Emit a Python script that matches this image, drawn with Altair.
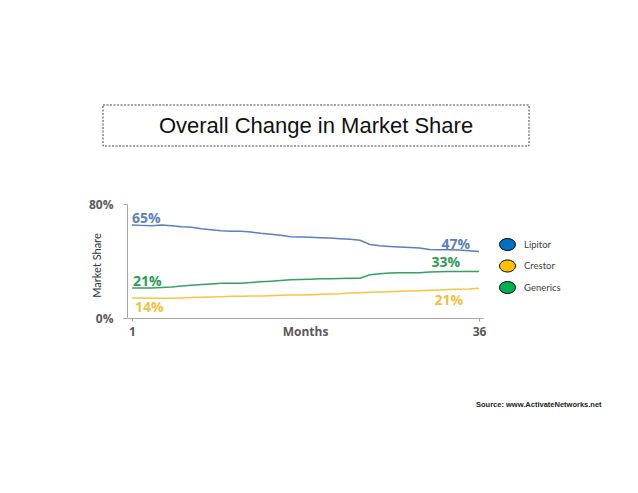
import altair as alt
import pandas as pd

# ---- data ----
months = list(range(1, 37))
series = ["Lipitor", "Crestor", "Generics"]
lipitor = [0.653, 0.650, 0.648, 0.653, 0.648, 0.641, 0.636, 0.627, 0.620, 0.613, 0.608, 0.608,
           0.603, 0.594, 0.587, 0.580, 0.570, 0.568, 0.566, 0.563, 0.561, 0.556, 0.552, 0.545,
           0.516, 0.507, 0.502, 0.498, 0.495, 0.491, 0.481, 0.479, 0.479, 0.477, 0.472, 0.467]
crestor = [0.141, 0.141, 0.138, 0.138, 0.138, 0.141, 0.143, 0.146, 0.148, 0.150, 0.153, 0.153,
           0.155, 0.155, 0.157, 0.160, 0.162, 0.162, 0.164, 0.167, 0.169, 0.171, 0.176, 0.178,
           0.181, 0.183, 0.185, 0.188, 0.190, 0.192, 0.195, 0.197, 0.200, 0.202, 0.204, 0.209]
generics = [0.211, 0.211, 0.211, 0.214, 0.218, 0.225, 0.230, 0.235, 0.239, 0.244, 0.244, 0.244,
            0.249, 0.254, 0.258, 0.263, 0.268, 0.270, 0.272, 0.275, 0.275, 0.277, 0.279, 0.279,
            0.303, 0.310, 0.315, 0.317, 0.317, 0.317, 0.322, 0.324, 0.326, 0.326, 0.326, 0.326]
x_tick_values = [1, 36]
y_tick_values = [0, 0.8]
title_text = "Overall Change in Market Share"
source_text = "Source: www.ActivateNetworks.net"

line_colors = ["#5a7fbe", "#f8c443", "#32a35b"]
label_colors = ["#5b80bd", "#f4bf3a", "#2e9c55"]
legend_colors = ["#0070c0", "#ffc000", "#00b050"]

values = {"Lipitor": lipitor, "Crestor": crestor, "Generics": generics}
rows = []
for s in series:
    for m, v in zip(months, values[s]):
        rows.append({"series": s, "month": m, "share": v})
df = pd.DataFrame(rows)
df["label"] = (df["share"] * 100).round().astype(int).astype(str) + "%"

x_enc = alt.X("month:Q", scale=alt.Scale(domain=[0.5, 36.4], nice=False, zero=False),
              axis=alt.Axis(values=x_tick_values, title="Months", grid=False,
                            labelFont="Open Sans", labelFontWeight="bold", labelFontSize=12,
                            labelColor="#595959", labelBaseline="middle", labelPadding=10,
                            labelFlush=False, labelOverlap=False,
                            tickSize=3, tickColor="#a6a6a6", domainColor="#a6a6a6",
                            titleFont="Open Sans", titleFontWeight="bold", titleFontSize=12,
                            titleColor="#595959", titleY=13, titleBaseline="middle"))
y_enc = alt.Y("share:Q", scale=alt.Scale(domain=[0, 0.8], nice=False),
              axis=alt.Axis(values=y_tick_values, format=".0%", title="Market Share", grid=False,
                            labelFont="Open Sans", labelFontWeight="bold", labelFontSize=12,
                            labelColor="#595959", labelPadding=10, labelFlush=False,
                            labelOverlap=False,
                            tickSize=4, tickColor="#a6a6a6", domainColor="#a6a6a6",
                            titleFont="Lato", titleFontWeight="normal", titleFontSize=11,
                            titleColor="#333333", titleX=-30, titleY=61,
                            titleAlign="center", titleBaseline="middle", titleAngle=270))


def series_line(s, first=False):
    c = line_colors[series.index(s)]
    ch = alt.Chart(df).transform_filter(alt.datum.series == s).mark_line(
        strokeWidth=1.5, color=c)
    if first:
        return ch.encode(x=x_enc, y=y_enc)
    return ch.encode(x="month:Q", y="share:Q")


lines = [series_line(s, i == 0) for i, s in enumerate(series)]

ellipse = "M-1,0A1,0.75,0,1,1,1,0A1,0.75,0,1,1,-1,0Z"
legend_pts = alt.Chart(df).mark_point(filled=True, opacity=0).encode(
    x="month:Q", y="share:Q",
    fill=alt.Fill("series:N", scale=alt.Scale(domain=series, range=legend_colors),
                  legend=alt.Legend(title=None, orient="none", legendX=372, legendY=32,
                                    symbolType=ellipse, symbolSize=256, symbolOpacity=1,
                                    symbolStrokeColor="black", symbolStrokeWidth=1,
                                    rowPadding=4.5, labelOffset=8, padding=0,
                                    labelFont="Lato", labelFontSize=9.5, labelColor="#404040")),
)


def data_label(s, m, align, dx, dy):
    c = label_colors[series.index(s)]
    return alt.Chart(df).transform_filter(
        (alt.datum.series == s) & (alt.datum.month == m)
    ).mark_text(align=align, baseline="middle", dx=dx, dy=dy, font="Open Sans",
                fontWeight="bold", fontSize=14, color=c).encode(
        x="month:Q", y="share:Q", text="label:N")


labels = [
    data_label("Lipitor", 1, "left", 0, -6),
    data_label("Generics", 1, "left", 1, -6),
    data_label("Crestor", 1, "left", 3, 10),
    data_label("Lipitor", 36, "right", -9, -6.5),
    data_label("Generics", 36, "right", -19, -8.5),
    data_label("Crestor", 36, "right", -16, 13),
]

one = pd.DataFrame({"t": [title_text], "s": [source_text]})
title_box = alt.Chart(one).mark_rect(fill="transparent", stroke="#444444", strokeWidth=1,
                                     strokeDash=[2, 1.5]).encode(
    x=alt.value(-24), x2=alt.value(402), y=alt.value(-99), y2=alt.value(-58))
title = alt.Chart(one).mark_text(font="Liberation Sans", fontSize=22, color="#111111",
                                 align="center", baseline="alphabetic").encode(
    x=alt.value(189), y=alt.value(-71), text="t:N")
source = alt.Chart(one).mark_text(font="Liberation Sans", fontSize=7.5, fontWeight="bold",
                                  color="#222222", align="left", baseline="alphabetic").encode(
    x=alt.value(349), y=alt.value(203), text="s:N")

chart = alt.layer(*lines, legend_pts, *labels, title_box, title, source).properties(
    width=356, height=114,
    autosize=alt.AutoSizeParams(type="none"),
    padding={"left": 119, "top": 196, "right": 147, "bottom": 167},
    background="white",
).configure_view(stroke=None)

chart.save("out.html", embed_options={"renderer": "svg", "actions": False})
